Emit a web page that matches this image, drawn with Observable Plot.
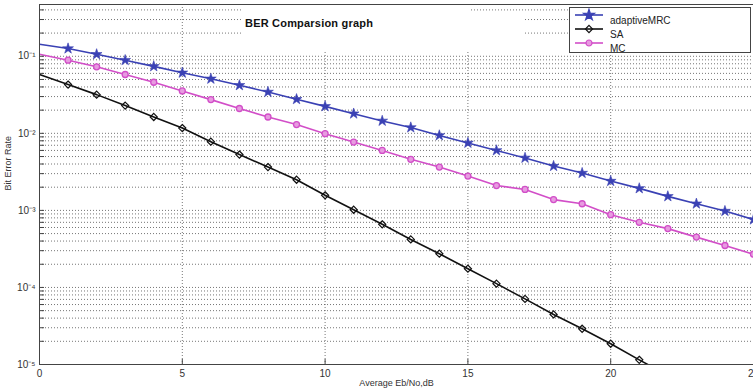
<!DOCTYPE html>
<html>
<head>
<meta charset="utf-8">
<script src="https://cdn.jsdelivr.net/npm/d3@7"></script>
<script src="https://cdn.jsdelivr.net/npm/@observablehq/plot@0.6"></script>
<style>
  html, body { margin: 0; padding: 0; background: #fff; }
  #wrap { position: relative; width: 753px; height: 392px; overflow: hidden; font-family: "Liberation Sans", Arial, sans-serif; }
  #title { position: absolute; left: 241px; top: 5px; width: 229px; height: 45px; background: #fff; }
  #title2 { position: absolute; left: 470px; top: 14px; width: 53px; height: 36px; background: #fff; }
  #titletext { position: absolute; left: 245px; top: 17px; font-weight: bold; font-size: 11px; color: #111; white-space: nowrap; letter-spacing: 0.2px; }
  #legend { position: absolute; left: 569px; top: 7px; }
</style>
</head>
<body>
<div id="wrap">
  <div id="chart"></div>
  <div id="title"></div>
  <div id="title2"></div>
  <div id="titletext">BER Comparsion graph</div>
  <svg id="legend" width="183" height="47"></svg>
</div>
<script>
// ---- data ----
const ebno = [0,1,2,3,4,5,6,7,8,9,10,11,12,13,14,15,16,17,18,19,20,21,22,23,24,25];
const adaptiveMRC = [0.143,0.126,0.106,0.089,0.074,0.061,0.051,0.042,0.0344,0.0277,0.0224,0.018,0.0145,0.0119,0.0094,0.0075,0.006,0.0048,0.00376,0.00305,0.0024,0.00193,0.00152,0.00122,0.00098,0.00076];
const SA = [0.058,0.043,0.0318,0.0229,0.0163,0.0117,0.0078,0.0053,0.00365,0.0025,0.00157,0.00102,0.00066,0.00042,0.000274,0.000175,0.000112,0.000071,0.0000446,0.0000291,0.0000186,0.0000115,0.0000072];
const MC = [0.106,0.089,0.073,0.058,0.046,0.0355,0.0274,0.021,0.0163,0.013,0.0099,0.0077,0.006,0.0046,0.00365,0.00279,0.0021,0.00187,0.00138,0.00122,0.00088,0.0007,0.00058,0.00045,0.00035,0.00027];
const seriesNames = ["adaptiveMRC", "SA", "MC"];
const xTicks = [0,5,10,15,20,25];
const yTicks = [1e-5,1e-4,1e-3,1e-2,1e-1];
const titleText = "BER Comparsion graph";
const xLabel = "Average Eb/No,dB";
const yLabel = "Bit Error Rate";

const colors = {adaptiveMRC: "#3a41b4", SA: "#111111", MC: "#d24ec8"};

const toRows = (vals, name) => vals.map((v, i) => ({x: ebno[i], y: v, s: name}));
const rowsA = toRows(adaptiveMRC, "adaptiveMRC");
const rowsS = toRows(SA, "SA");
const rowsM = toRows(MC, "MC");

const yDomain = [1e-5, 0.47];
const yGrid = d3.scaleLog().domain(yDomain).ticks(50);
const supMap = {"-":"\u207B","0":"\u2070","1":"\u00B9","2":"\u00B2","3":"\u00B3","4":"\u2074","5":"\u2075","6":"\u2076","7":"\u2077","8":"\u2078","9":"\u2079"};
const sup = d => "10" + String(Math.round(Math.log10(d))).split("").map(c => supMap[c]).join("");

const gridStyle = {stroke: "#555", strokeOpacity: 0.9, strokeWidth: 0.9, strokeDasharray: "1,2"};
const notFirst = d => d.x > 0;

const R_STAR = 3.4, R_DIAM = 3.2, R_CIRC = 3.0;

const chart = Plot.plot({
  width: 753,
  height: 392,
  marginLeft: 39,
  marginRight: 0,
  marginTop: 4,
  marginBottom: 28,
  style: {fontFamily: "Liberation Sans, Arial, sans-serif", fontSize: "10px", background: "white", color: "#222"},
  x: {domain: [0, 25], label: null},
  y: {type: "log", domain: yDomain, label: null},
  marks: [
    Plot.gridY(yGrid, gridStyle),
    Plot.gridX(xTicks, gridStyle),
    Plot.line(rowsA, {x: "x", y: "y", stroke: colors.adaptiveMRC, strokeWidth: 1.6, clip: true}),
    Plot.line(rowsM, {x: "x", y: "y", stroke: colors.MC, strokeWidth: 1.6, clip: true}),
    Plot.line(rowsS, {x: "x", y: "y", stroke: colors.SA, strokeWidth: 1.6, clip: true}),
    Plot.dot(rowsA, {x: "x", y: "y", filter: notFirst, symbol: "star", r: R_STAR, fill: colors.adaptiveMRC, stroke: colors.adaptiveMRC, strokeWidth: 0.6, clip: true}),
    Plot.dot(rowsM, {x: "x", y: "y", filter: notFirst, symbol: "circle", r: R_CIRC, fill: "#e79be0", stroke: colors.MC, strokeWidth: 1.3, clip: true}),
    Plot.dot(rowsS, {x: "x", y: "y", filter: notFirst, symbol: "diamond2", r: R_DIAM, fill: "none", stroke: colors.SA, strokeWidth: 1.2, clip: true}),
    Plot.frame({stroke: "#444", strokeWidth: 1}),
    Plot.axisY(yGrid, {tickSize: 5, dx: 5, text: null, stroke: "#444"}),
    Plot.axisY(yTicks, {tickSize: 0, tickPadding: 4, tickFormat: sup, fill: "#333", fontSize: 10}),
    Plot.axisX(xTicks, {tickSize: 5, dy: -5, text: null, stroke: "#444"}),
    Plot.axisX(xTicks, {tickSize: 0, tickPadding: 5, fill: "#333", fontSize: 10}),
    Plot.text([xLabel], {frameAnchor: "bottom", dy: 21, fontSize: 9, fill: "#333"}),
    Plot.text([yLabel], {frameAnchor: "left", dx: -31, dy: 6, rotate: -90, fontSize: 9, fill: "#333"})
  ]
});
document.getElementById("chart").appendChild(chart);

// ---- legend ----
const lg = d3.select("#legend");
lg.append("rect").attr("x", 0.5).attr("y", 0.5).attr("width", 181).attr("height", 45)
  .attr("fill", "#fff").attr("stroke", "#444").attr("stroke-width", 1);
const legendItems = [
  {name: seriesNames[0], sym: d3.symbolStar, size: Math.PI * R_STAR * R_STAR, fill: colors.adaptiveMRC, stroke: colors.adaptiveMRC},
  {name: seriesNames[1], sym: d3.symbolDiamond2, size: Math.PI * R_DIAM * R_DIAM, fill: "none", stroke: colors.SA},
  {name: seriesNames[2], sym: d3.symbolCircle, size: Math.PI * R_CIRC * R_CIRC, fill: "#e79be0", stroke: colors.MC}
];
legendItems.forEach((it, i) => {
  const cy = 8 + i * 14;
  lg.append("line").attr("x1", 6).attr("x2", 34).attr("y1", cy).attr("y2", cy)
    .attr("stroke", it.stroke).attr("stroke-width", 1.6);
  lg.append("path").attr("d", d3.symbol(it.sym, it.size)()).attr("transform", `translate(20,${cy})`)
    .attr("fill", it.fill).attr("stroke", it.stroke).attr("stroke-width", 1.2);
  lg.append("text").attr("x", 41).attr("y", cy + 9).text(it.name)
    .attr("font-family", "Liberation Sans Narrow, Liberation Sans, Arial, sans-serif")
    .attr("font-size", 10).attr("fill", "#222");
});
</script>
</body>
</html>
